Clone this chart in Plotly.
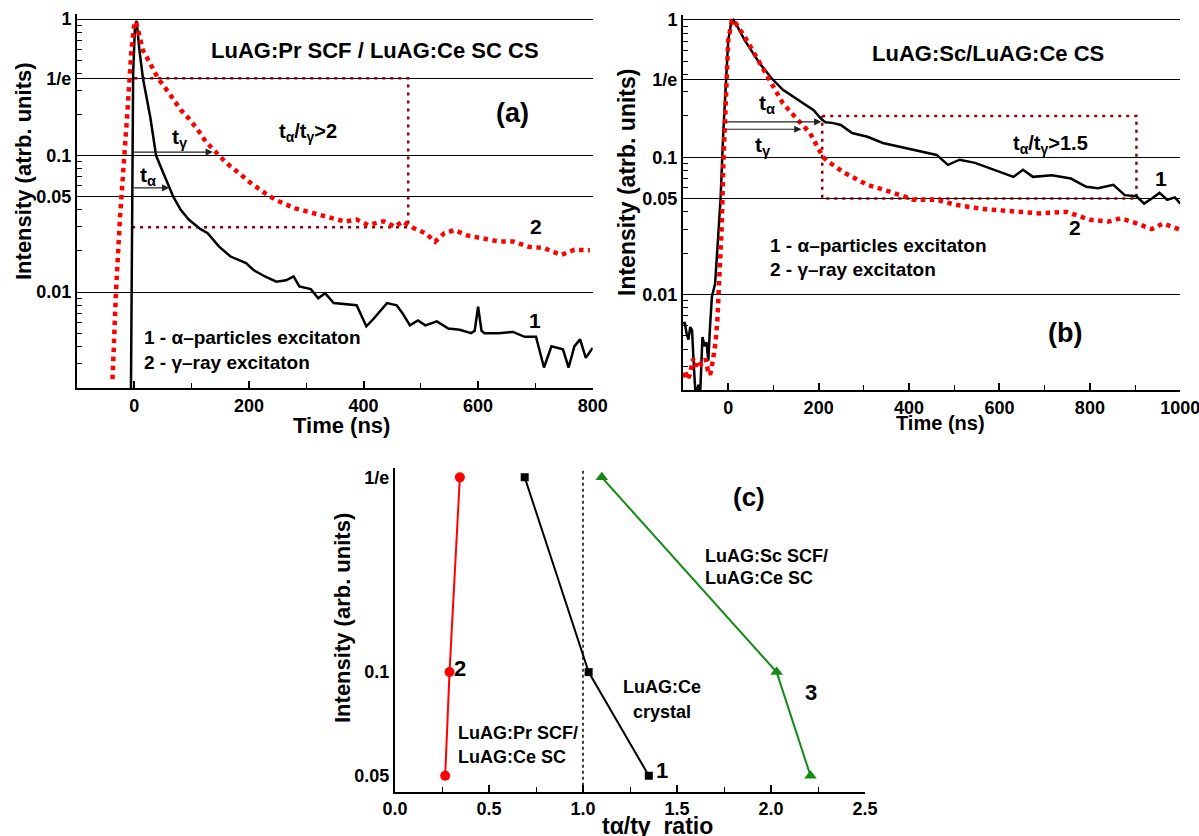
import math
import plotly.graph_objects as go

W, H = 1199, 836
INV_E = 1 / math.e

# ---------------- Panel (a): LuAG:Pr SCF / LuAG:Ce SC CS ----------------
a_alpha_t = [-6, -5, -4, -2, 1, 4, 9, 15, 28, 38, 51, 68, 81, 95, 115, 128, 148, 168, 195, 208,
             228, 248, 265, 278, 288, 308, 321, 333, 348, 368, 388, 405, 418, 441, 458, 468, 481,
             495, 508, 528, 548, 568, 588, 594, 600, 606, 611, 635, 661, 681, 701, 715, 728, 748,
             758, 768, 778, 788, 800]
a_alpha_I = [0.0015, 0.01, 0.08, 0.4, 0.85, 0.97, 0.59, 0.37, 0.19, 0.1, 0.074, 0.05, 0.040, 0.034,
             0.029, 0.027, 0.0215, 0.0182, 0.0163, 0.0145, 0.013, 0.0119, 0.0122, 0.013, 0.011,
             0.0105, 0.0090, 0.0098, 0.0083, 0.0082, 0.0080, 0.0056, 0.0064, 0.0083, 0.0080,
             0.0070, 0.0057, 0.0062, 0.0057, 0.0061, 0.0054, 0.0053, 0.0050, 0.0052, 0.0078,
             0.0052, 0.0050, 0.0050, 0.0051, 0.0047, 0.0047, 0.0028, 0.0040, 0.0038, 0.0028,
             0.0040, 0.0045, 0.0033, 0.0039]
a_gamma_t = [-38, -36, -32, -25, -19, -12, -5, 0, 3, 15, 28, 41, 61, 81, 95, 111, 125, 141, 161,
             185, 201, 228, 248, 281, 301, 321, 341, 368, 388, 408, 435, 455, 468, 488, 508, 525,
             541, 559, 581, 608, 635, 661, 688, 715, 745, 768, 795]
a_gamma_I = [0.0023, 0.0042, 0.010, 0.035, 0.09, 0.21, 0.59, 0.93, 0.96, 0.59, 0.47, 0.37, 0.286,
             0.216, 0.187, 0.154, 0.126, 0.107, 0.088, 0.073, 0.064, 0.053, 0.047, 0.041, 0.039,
             0.037, 0.035, 0.0328, 0.034, 0.031, 0.033, 0.030, 0.033, 0.0293, 0.027, 0.0234,
             0.027, 0.0284, 0.026, 0.0249, 0.0235, 0.0235, 0.0215, 0.021, 0.0187, 0.0204, 0.0202]

# ---------------- Panel (b): LuAG:Sc/LuAG:Ce CS ----------------
b_alpha_t = [-100, -96, -92, -88, -84, -80, -76, -72, -66, -62, -57, -52, -48, -44, -40, -36, -29,
             -22, -17, -11, -5, 0, 7, 11, 20, 36, 70, 96, 121, 155, 189, 206, 215, 230, 249, 274,
             308, 342, 393, 427, 461, 486, 512, 546, 580, 614, 631, 652, 674, 716, 758, 792, 818,
             852, 877, 903, 920, 937, 954, 971, 988, 1000]
b_alpha_I = [0.0062, 0.0062, 0.0052, 0.0047, 0.0058, 0.0055, 0.0030, 0.0018, 0.0022, 0.0019,
             0.0049, 0.0042, 0.0045, 0.0033, 0.0060, 0.0097, 0.012, 0.025, 0.049, 0.15, 0.366,
             0.71, 0.97, 1.0, 0.9, 0.715, 0.48, 0.376, 0.31, 0.26, 0.22, 0.19, 0.18, 0.178, 0.172,
             0.15, 0.141, 0.127, 0.116, 0.11, 0.104, 0.088, 0.096, 0.091, 0.083, 0.076, 0.072,
             0.081, 0.072, 0.074, 0.070, 0.061, 0.0595, 0.063, 0.053, 0.052, 0.046, 0.050, 0.055,
             0.049, 0.051, 0.046]
b_gamma_t = [-100, -95, -90, -85, -78, -72, -66, -60, -55, -50, -45, -40, -34, -28, -24, -20, -17,
             -14, -11, -7, -4, 0, 8, 12, 36, 70, 96, 121, 147, 181, 210, 223, 257, 308, 359, 410,
             461, 504, 563, 614, 665, 690, 749, 770, 800, 842, 868, 903, 937, 962, 1000]
b_gamma_I = [0.0025, 0.0028, 0.0024, 0.0026, 0.0034, 0.0030, 0.0033, 0.0031, 0.0032, 0.0034,
             0.0028, 0.0026, 0.0033, 0.0045, 0.0065, 0.011, 0.02, 0.033, 0.085, 0.198, 0.366,
             0.71, 0.99, 1.0, 0.76, 0.48, 0.346, 0.247, 0.198, 0.15, 0.10, 0.092, 0.077, 0.063,
             0.056, 0.049, 0.049, 0.045, 0.042, 0.041, 0.040, 0.039, 0.040, 0.038, 0.035, 0.034,
             0.036, 0.033, 0.030, 0.033, 0.0296]

# ---------------- Panel (c): t_alpha / t_gamma ratio ----------------
c_levels = [INV_E, 0.1, 0.05]
c_level_labels = ["1/e", "0.1", "0.05"]
c_ratio_crystal = [0.69, 1.03, 1.35]      # 1 - LuAG:Ce crystal
c_ratio_pr_scf = [0.345, 0.29, 0.267]     # 2 - LuAG:Pr SCF / LuAG:Ce SC
c_ratio_sc_scf = [1.10, 2.03, 2.21]       # 3 - LuAG:Sc SCF / LuAG:Ce SC

ab_tickvals = [1, INV_E, 0.1, 0.05, 0.01]
ab_ticktext = ["1", "1/e", "0.1", "0.05", "0.01"]

FONT = "Liberation Sans, Arial, sans-serif"
RED = "#ff0000"
MAROON = "#8b0000"
GREEN = "#138a13"

minor_log = [k * 10 ** e for e in (-3, -2, -1) for k in range(2, 10)]


def px2paper(px, py):
    return px / W, 1 - py / H


fig = go.Figure()

# ---- traces panel (a)
fig.add_trace(go.Scatter(x=[0, 478, 478, -3], y=[INV_E, INV_E, 0.0298, 0.0298], mode="lines",
                         line=dict(color=MAROON, width=2.5, dash="3px,5px"), xaxis="x", yaxis="y"))
fig.add_trace(go.Scatter(x=a_alpha_t, y=a_alpha_I, mode="lines",
                         line=dict(color="black", width=2.5), xaxis="x", yaxis="y"))
fig.add_trace(go.Scatter(x=a_gamma_t, y=a_gamma_I, mode="lines",
                         line=dict(color=RED, width=4.5, dash="dot"), xaxis="x", yaxis="y"))

# ---- traces panel (b)
fig.add_trace(go.Scatter(x=[208, 903, 903, 208, 208], y=[0.2, 0.2, 0.05, 0.05, 0.2], mode="lines",
                         line=dict(color=MAROON, width=2.5, dash="3px,5px"), xaxis="x2", yaxis="y2"))
fig.add_trace(go.Scatter(x=b_alpha_t, y=b_alpha_I, mode="lines",
                         line=dict(color="black", width=2.5), xaxis="x2", yaxis="y2"))
fig.add_trace(go.Scatter(x=b_gamma_t, y=b_gamma_I, mode="lines",
                         line=dict(color=RED, width=4.5, dash="dot"), xaxis="x2", yaxis="y2"))

# ---- traces panel (c)
fig.add_trace(go.Scatter(x=c_ratio_pr_scf, y=c_levels, mode="lines+markers",
                         line=dict(color=RED, width=2), marker=dict(symbol="circle", size=10, color=RED),
                         xaxis="x3", yaxis="y3"))
fig.add_trace(go.Scatter(x=c_ratio_crystal, y=c_levels, mode="lines+markers",
                         line=dict(color="black", width=2), marker=dict(symbol="square", size=8, color="black"),
                         xaxis="x3", yaxis="y3"))
fig.add_trace(go.Scatter(x=c_ratio_sc_scf, y=c_levels, mode="lines+markers",
                         line=dict(color=GREEN, width=2),
                         marker=dict(symbol="triangle-up", size=11, color=GREEN),
                         xaxis="x3", yaxis="y3"))

tickfont = dict(family=FONT, size=18, color="black", weight="bold")


def xax(domain, rng, dtick, mdtick, anchor, fmt=None):
    d = dict(domain=domain, range=rng, anchor=anchor, showline=True, linecolor="black", linewidth=2,
             ticks="inside", ticklen=7, tickwidth=1.5, tickcolor="black", dtick=dtick, tick0=0,
             showgrid=False, zeroline=False, tickfont=tickfont, automargin=False,
             ticklabeloverflow="allow",
             minor=dict(dtick=mdtick, tick0=0, ticks="inside", ticklen=5, tickwidth=1.2,
                        tickcolor="black", showgrid=False))
    if fmt:
        d["tickformat"] = fmt
    return d


def yax_log(domain, rng, anchor):
    return dict(domain=domain, type="log", range=rng, anchor=anchor, showline=True,
                linecolor="black", linewidth=2, ticks="inside", ticklen=8, tickwidth=1.2,
                tickcolor="black", tickvals=ab_tickvals, ticktext=ab_ticktext, showgrid=True,
                gridcolor="black", gridwidth=1, zeroline=False, tickfont=tickfont, automargin=False,
                ticklabeloverflow="allow",
                minor=dict(tickvals=minor_log, ticks="inside", ticklen=5, tickwidth=1,
                           tickcolor="black", showgrid=False))


fig.update_layout(
    width=W, height=H, margin=dict(l=0, r=0, t=0, b=0), template="none",
    paper_bgcolor="white", plot_bgcolor="rgba(0,0,0,0)", showlegend=False,
    font=dict(family=FONT, color="black", weight="bold"),
    xaxis=xax([77 / W, 592.7 / W], [-100, 800], 200, 100, "y"),
    yaxis=yax_log([1 - 388 / H, 1 - 14 / H], [-2.703, 0.037], "x"),
    xaxis2=xax([683 / W, 1180.3 / W], [-100, 1000], 200, 100, "y2"),
    yaxis2=yax_log([1 - 390 / H, 1 - 15 / H], [-2.695, 0.036], "x2"),
    xaxis3=xax([395 / W, 865 / W], [0, 2.5], 0.5, 0.25, "y3", ".1f"),
    yaxis3=dict(domain=[1 - 791.7 / H, 1 - 468.3 / H], type="log", range=[-1.3475, -0.408],
                anchor="x3", showline=True, linecolor="black", linewidth=2, ticks="",
                tickvals=c_levels, ticktext=c_level_labels, showgrid=False, zeroline=False,
                tickfont=tickfont, automargin=False),
)

# dotted vertical line at ratio 1 in panel (c)
fig.add_shape(type="line", xref="x3", yref="y3 domain", x0=1, x1=1, y0=0, y1=1,
              line=dict(color="black", width=1.5, dash="dot"))

# arrows (annotation coordinates on log axes are log10 values)
arrows = [
    ("x", "y", -3, 137, 0.106),
    ("x", "y", -3.5, 61, 0.058),
    ("x2", "y2", -7, 206, 0.181),
    ("x2", "y2", -7, 162, 0.16),
]
for xr, yr, t0, t1, lvl in arrows:
    ly = math.log10(lvl)
    fig.add_annotation(xref=xr, yref=yr, axref=xr, ayref=yr, x=t1, y=ly, ax=t0, ay=ly, text="",
                       showarrow=True, arrowhead=2, arrowsize=1.2, arrowwidth=1.2,
                       arrowcolor="#222222", standoff=0, startstandoff=0)


def label(text, px, py, size, xanchor="center", angle=0, yanchor="middle"):
    x, y = px2paper(px, py)
    fig.add_annotation(xref="paper", yref="paper", x=x, y=y, text=text, showarrow=False,
                       xanchor=xanchor, yanchor=yanchor, textangle=angle,
                       font=dict(family=FONT, size=size, color="black", weight="bold"))


# panel (a) texts
label("LuAG:Pr SCF / LuAG:Ce SC CS", 375, 51, 22)
label("(a)", 512, 113, 27)
label("t<sub>γ</sub>", 170, 138, 21, "left")
label("t<sub>α</sub>", 138, 176, 21, "left")
label("t<sub>α</sub>/t<sub>γ</sub>&gt;2", 308, 133, 20)
label("2", 536, 226, 21)
label("1", 535, 320, 21)
label("1 - α–particles excitaton", 142, 338, 19, "left")
label("2 - γ–ray excitaton", 142, 362, 19, "left")
label("Intensity (atrb. units)", 23, 171, 22, angle=-90)
label("Time (ns)", 341, 425, 22)

# panel (b) texts
label("LuAG:Sc/LuAG:Ce CS", 988, 53, 22)
label("(b)", 1065, 333, 27)
label("t<sub>α</sub>", 757, 104, 21, "left")
label("t<sub>γ</sub>", 753, 146, 21, "left")
label("t<sub>α</sub>/t<sub>γ</sub>&gt;1.5", 1050, 144, 20)
label("1", 1161, 178, 21)
label("2", 1075, 228, 21)
label("1 - α–particles excitaton", 768, 245, 19, "left")
label("2 - γ–ray excitaton", 768, 269, 19, "left")
label("Intensity (atrb. units)", 627, 183, 23, angle=-90)
label("Time (ns)", 941, 423, 20)

# panel (c) texts
label("(c)", 749, 497, 26)
label("LuAG:Sc SCF/", 703, 556, 18, "left")
label("LuAG:Ce SC", 703, 578, 18, "left")
label("LuAG:Ce", 662, 687, 18)
label("crystal", 662, 712, 18)
label("LuAG:Pr SCF/", 456, 733, 18, "left")
label("LuAG:Ce SC", 456, 757, 18, "left")
label("2", 460, 668, 22)
label("1", 662, 770, 22)
label("3", 811, 692, 22)
label("Intensity (arb. units)", 342, 618, 22, angle=-90)
label("tα/tγ\u00a0\u00a0ratio", 657, 826, 23)

fig.write_html("out.html")
